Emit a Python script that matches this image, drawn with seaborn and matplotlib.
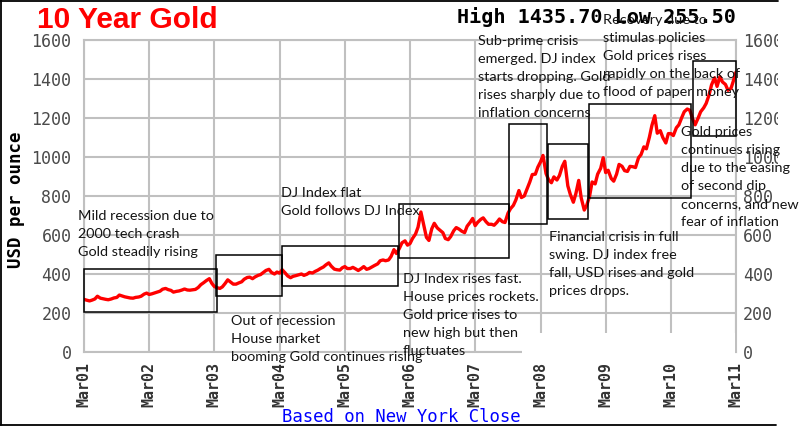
import matplotlib
matplotlib.use("Agg")
import matplotlib.pyplot as plt
import matplotlib.dates as mdates
from matplotlib.patches import Rectangle
from matplotlib.lines import Line2D
import pandas as pd
import seaborn as sns

# gold price (USD/oz), 1st and 15th of each month
prices_2001 = [270, 266, 262, 266, 272, 286, 276, 273, 270, 268, 272, 277, 280, 292, 287, 283, 280, 277, 276, 280]
prices_2002 = [282, 286, 297, 302, 295, 298, 303, 307, 312, 322, 326, 320, 316, 307, 311, 313, 318, 323, 318, 317, 319, 321, 331, 345]
prices_2003 = [356, 366, 376, 352, 336, 330, 326, 334, 352, 370, 358, 348, 348, 354, 360, 373, 382, 384, 376, 385, 393, 397, 408, 418]
prices_2004 = [424, 408, 400, 410, 404, 422, 405, 390, 381, 388, 392, 396, 400, 393, 399, 408, 405, 413, 420, 428, 436, 447, 457, 440]
prices_2005 = [425, 422, 420, 432, 438, 428, 428, 434, 426, 418, 428, 438, 424, 428, 437, 444, 452, 468, 472, 468, 472, 490, 525, 505]
prices_2006 = [532, 560, 570, 548, 556, 582, 605, 640, 718, 660, 588, 572, 632, 660, 636, 625, 612, 582, 576, 592, 622, 638, 630, 620]
prices_2007 = [612, 645, 665, 685, 648, 665, 680, 688, 668, 655, 655, 650, 665, 682, 668, 664, 712, 735, 752, 780, 828, 792, 800, 832]
prices_2008 = [872, 910, 912, 948, 975, 1008, 915, 884, 868, 898, 882, 905, 952, 978, 852, 808, 768, 812, 880, 790, 728, 752, 800, 872]
prices_2009 = [862, 912, 942, 996, 920, 932, 890, 876, 912, 962, 952, 930, 926, 952, 950, 946, 996, 1012, 1052, 1042, 1102, 1162, 1212, 1122]
prices_2010 = [1135, 1100, 1072, 1120, 1120, 1110, 1150, 1165, 1202, 1232, 1246, 1240, 1196, 1165, 1200, 1232, 1252, 1275, 1318, 1370, 1406, 1362, 1412, 1385]
prices_2011 = [1372, 1342, 1352, 1392, 1435]

prices = (prices_2001 + prices_2002 + prices_2003 + prices_2004 + prices_2005 + prices_2006
          + prices_2007 + prices_2008 + prices_2009 + prices_2010 + prices_2011)
dates = pd.date_range("2001-03-01", periods=len(prices), freq="SMS")

tick_labels = ["Mar01", "Mar02", "Mar03", "Mar04", "Mar05", "Mar06",
               "Mar07", "Mar08", "Mar09", "Mar10", "Mar11"]
tick_dates = pd.to_datetime(["20" + lab[3:] + "-03-01" for lab in tick_labels])
y_ticks = [0, 200, 400, 600, 800, 1000, 1200, 1400, 1600]

# boxed periods of the commentary
box_start = ["2001-03-01", "2003-03-12", "2004-03-15", "2005-12-28", "2007-09-07", "2008-04-10", "2008-11-30", "2010-07-02"]
box_end = ["2003-03-15", "2004-03-15", "2005-12-25", "2007-09-07", "2008-04-07", "2008-11-24", "2010-06-24", "2011-03-03"]
box_low = [204, 286, 337, 481, 655, 682, 790, 1106]
box_high = [424, 499, 545, 757, 1168, 1067, 1270, 1494]

notes = [
    (78, 216, ["Mild recession due to", "2000 tech crash", "Gold steadily rising"]),
    (231, 321, ["Out of recession", "House market", "booming Gold continues rising"]),
    (281, 193, ["DJ Index flat", "Gold follows DJ Index"]),
    (403, 279, ["DJ Index rises fast.", "House prices rockets.", "Gold price rises to",
                "new high but then", "fluctuates"]),
    (478, 41, ["Sub-prime crisis", "emerged. DJ index", "starts dropping. Gold",
               "rises sharply due to", "inflation concerns"]),
    (603, 20, ["Recovery due to", "stimulas policies", "Gold prices rises",
               "rapidly on the back of", "flood of paper money"]),
    (549, 237, ["Financial crisis in full", "swing. DJ index free",
                "fall, USD rises and gold", "prices drops."]),
    (681, 132, ["Gold prices", "continues rising", "due to the easing", "of second dip",
                "concerns, and new", "fear of inflation"]),
]

W, H = 803, 443


def fx(x):
    return x / W


def fy(y):
    return 1 - y / H


sns.set_style("white")
plt.rcParams["font.family"] = ["DejaVu Sans"]

fig = plt.figure(figsize=(W / 100, H / 100), dpi=100)
ax = fig.add_axes([fx(84), fy(352), (736 - 84) / W, (352 - 40) / H])

grid_color = "#c0c0c0"
sns.lineplot(x=dates, y=prices, ax=ax, color="#ff0000", linewidth=2.4, zorder=3)

ax.set_xlim(tick_dates[0], tick_dates[-1])
ax.set_ylim(0, 1600)
ax.set_xticks(tick_dates)
ax.set_xticklabels(tick_labels, rotation=90, family="DejaVu Sans Mono",
                   fontsize=10.8, fontweight="bold", color="#333333")
ax.set_yticks(y_ticks)
ax.set_yticklabels([str(v) for v in y_ticks], family="DejaVu Sans Mono",
                   fontsize=12, color="#4a4a4a")
ax.tick_params(axis="both", length=0)
ax.tick_params(axis="y", pad=9)
ax.tick_params(axis="x", pad=7)
ax.grid(True, color=grid_color, linewidth=1.5)
ax.set_axisbelow(True)
for sp in ax.spines.values():
    sp.set_color(grid_color)
    sp.set_linewidth(1.5)
ax.set_xlabel("")
ax.set_ylabel("")

ax2 = ax.twinx()
ax2.set_ylim(0, 1600)
ax2.set_yticks(y_ticks)
ax2.set_yticklabels([str(v) for v in y_ticks], family="DejaVu Sans Mono",
                    fontsize=12, color="#4a4a4a")
ax2.tick_params(axis="y", length=0, pad=5)
for sp in ax2.spines.values():
    sp.set_visible(False)

for s, e, lo, hi in zip(box_start, box_end, box_low, box_high):
    x0 = mdates.date2num(pd.Timestamp(s))
    x1 = mdates.date2num(pd.Timestamp(e))
    ax.add_patch(Rectangle((x0, lo), x1 - x0, hi - lo, fill=False,
                           edgecolor="black", linewidth=1.1, zorder=4, clip_on=False))

# white areas of the original picture
fig.patches.append(Rectangle((fx(778), 0), 1 - fx(778), 1, transform=fig.transFigure,
                             facecolor="white", edgecolor="none", zorder=2))
fig.patches.append(Rectangle((fx(522), fy(362)), fx(735) - fx(522), fy(333) - fy(362),
                             transform=fig.transFigure, facecolor="white",
                             edgecolor="none", zorder=2))

# frame
for xs, ys in [([1, 1], [0, 425]), ([0, 778], [0.5, 0.5]), ([0, 776], [425, 425])]:
    fig.lines.append(Line2D([fx(v) for v in xs], [fy(v) for v in ys],
                            transform=fig.transFigure, color="black", linewidth=1.3, zorder=3))

fig.text(fx(37), fy(28), "10 Year Gold", color="#ff0000", family="Liberation Sans",
         fontweight="bold", fontsize=21.5, ha="left", va="baseline", zorder=5)
fig.text(fx(457), fy(17), "High 1435.70 Low 255.50", color="black",
         family="DejaVu Sans Mono", fontweight="bold", fontsize=14.5,
         ha="left", va="center", zorder=5)
fig.text(fx(16), fy(200), "USD per ounce", rotation=90, color="black",
         family="DejaVu Sans Mono", fontweight="bold", fontsize=12.5,
         ha="center", va="center", zorder=5)
fig.text(fx(401), fy(417), "Based on New York Close", color="#0000ff",
         family="DejaVu Sans Mono", fontsize=12.4, ha="center", va="center", zorder=5)

for x, y, lines in notes:
    for i, line in enumerate(lines):
        fig.text(fx(x), fy(y + 18 * i), line, family="Lato", fontsize=10.4,
                 color="#141414", ha="left", va="center", zorder=6)

fig.savefig("out.png", dpi=100)
